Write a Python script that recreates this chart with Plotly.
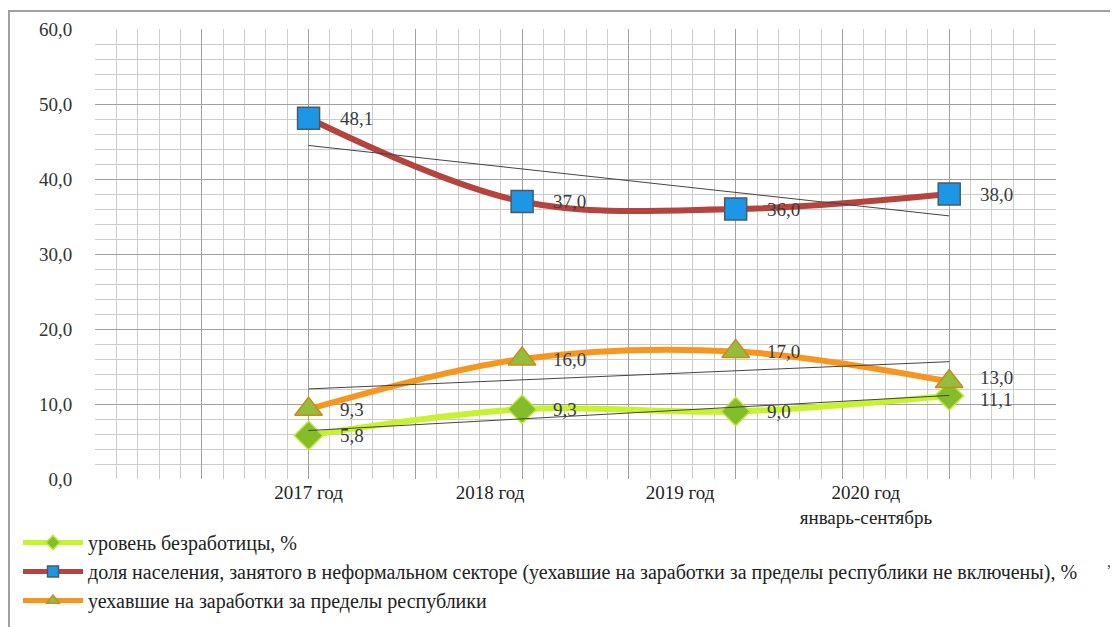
import numpy as np
import plotly.graph_objects as go

categories = ["2017 год", "2018 год", "2019 год", "2020 год<br>январь-сентябрь"]
unemployment = [5.8, 9.3, 9.0, 11.1]
informal = [48.1, 37.0, 36.0, 38.0]
migrants = [9.3, 16.0, 17.0, 13.0]
names = [
    "уровень безработицы, %",
    "доля населения, занятого в неформальном секторе (уехавшие на заработки за пределы республики не включены), %",
    "уехавшие на заработки за пределы республики",
]
y_ticks = [0, 10, 20, 30, 40, 50, 60]

# layout positions (grid units) of the points and of the category labels
point_x = [10 + 10 * i for i in range(len(categories))]
label_x = [10, 18.5, 27.4, 36.1]

SERIF = "Liberation Serif"
LABEL_FONT = dict(family=SERIF, size=19, color="#3a3a3a")


def fmt(v):
    return f"{v:.1f}".replace(".", ",")


fig = go.Figure()

series = [
    (unemployment, names[0], "#c6f22e",
     dict(symbol="diamond", size=22, color="#84bd2a", line=dict(color="#bfe83a", width=1.5))),
    (informal, names[1], "#b5433e",
     dict(symbol="square", size=22, color="#1e96e6", line=dict(color="#4a5a6a", width=1.5))),
    (migrants, names[2], "#f7961e",
     dict(symbol="triangle-up", size=24, color="#93bd3a", line=dict(color="#c88a22", width=1.5))),
]

for i, (vals, name, col, mk) in enumerate(series):
    fig.add_trace(go.Scatter(
        x=point_x, y=vals, name=name, mode="lines+markers",
        line=dict(color=col, width=6, shape="spline", smoothing=1),
        marker=mk, showlegend=False, cliponaxis=False,
    ))

# linear trend lines
for vals in (unemployment, informal, migrants):
    idx = np.arange(len(vals))
    k, b = np.polyfit(idx, vals, 1)
    trend = (k * idx + b).tolist()
    fig.add_trace(go.Scatter(
        x=[point_x[0], point_x[-1]], y=[trend[0], trend[-1]], mode="lines",
        line=dict(color="#444444", width=1), showlegend=False, hoverinfo="skip",
    ))

# legend entries (small markers like the reference)
for i, (vals, name, col, mk) in enumerate(series):
    small = dict(mk)
    small["size"] = 11
    fig.add_trace(go.Scatter(
        x=[None], y=[None], name=name, mode="lines+markers",
        line=dict(color=col, width=5), marker=small, legendgroup=f"g{i}",
    ))

# helper trace for the label axis
fig.add_trace(go.Scatter(x=[0, 45], y=[0, 0], xaxis="x2", mode="markers",
                         marker=dict(opacity=0), showlegend=False, hoverinfo="skip"))

# data labels, placed at the data points through the axes
annotations = []
last = len(categories) - 1
for s, (vals, name, col, mk) in enumerate(series):
    for j, v in enumerate(vals):
        ys = 0
        if j == last and s == 2:
            ys = 4
        if j == last and s == 0:
            ys = -4
        annotations.append(dict(
            x=point_x[j], y=v, xref="x", yref="y", text=fmt(v), showarrow=False,
            xanchor="left", yanchor="middle", xshift=29, yshift=ys, font=LABEL_FONT,
        ))
annotations.append(dict(text=",", xref="paper", yref="paper", x=1.059, y=-0.207,
                        showarrow=False, font=dict(family=SERIF, size=16, color="#444")))

fig.update_layout(
    width=1118, height=627,
    margin=dict(l=87, r=70, t=21, b=156, autoexpand=False),
    paper_bgcolor="white", plot_bgcolor="white",
    separators=", ",
    font=dict(family=SERIF, size=17, color="#222222"),
    showlegend=True,
    legend=dict(x=10 / 1118, y=1 - 515 / 627, xref="container", yref="container",
                xanchor="left", yanchor="top",
                orientation="v", tracegroupgap=0, itemwidth=60,
                font=dict(family=SERIF, size=20, color="#222222"),
                bgcolor="rgba(0,0,0,0)"),
    xaxis=dict(range=[0, 45], dtick=5, tick0=0, showticklabels=False,
               showgrid=True, gridcolor="#a0a0a0", gridwidth=1, zeroline=False,
               showline=False, ticks="",
               minor=dict(dtick=1, showgrid=True, gridcolor="#cccccc", gridwidth=1)),
    xaxis2=dict(range=[0, 45], overlaying="x", anchor="y", side="bottom",
                tickmode="array", tickvals=label_x, ticktext=categories,
                showgrid=False, zeroline=False, showline=False, ticks="",
                tickfont=dict(family=SERIF, size=19, color="#222222")),
    yaxis=dict(range=[0, 60], tickvals=y_ticks, tickformat=".1f",
               showgrid=True, gridcolor="#a0a0a0", gridwidth=1, zeroline=False,
               showline=False, ticks="outside", ticklen=18, tickcolor="rgba(0,0,0,0)",
               tickfont=dict(family=SERIF, size=19, color="#333333"),
               minor=dict(dtick=2, showgrid=True, gridcolor="#cccccc", gridwidth=1)),
    shapes=[dict(type="rect", xref="paper", yref="paper",
                 x0=-86 / 961, x1=1.08, y0=-0.4, y1=1.04,
                 line=dict(color="#a0a0a0", width=2), layer="below")],
    annotations=annotations,
)

fig.write_html("out.html")
